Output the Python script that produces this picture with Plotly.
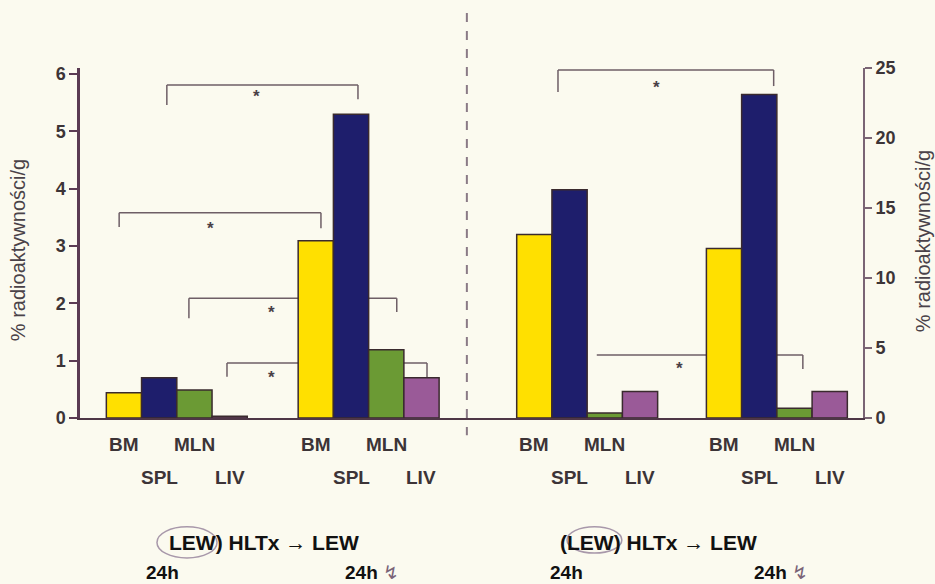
import plotly.graph_objects as go

# ---------------- data ----------------
organs = ["BM", "SPL", "MLN", "LIV"]
left_24h = [0.44, 0.70, 0.49, 0.03]          # left axis (%)
left_24h_irr = [3.09, 5.30, 1.19, 0.70]      # left axis (%)
right_24h = [13.1, 16.3, 0.35, 1.9]          # right axis (%)
right_24h_irr = [12.1, 23.1, 0.70, 1.9]      # right axis (%)
left_ticks = [0, 1, 2, 3, 4, 5, 6]
right_ticks = [0, 5, 10, 15, 20, 25]
axis_title = "% radioaktywności/g"
group_title_left = "LEW) HLTx → LEW"
group_title_right = "(LEW) HLTx → LEW"
time_label = "24h"
irr_symbol = "↯"

# ---------------- layout helpers ----------------
colors = ["#FFE000", "#1E1E6C", "#6B9A34", "#9A5A98"]
group_centers = [2.72, 8.11, 14.25, 19.58]
step = 0.99
offsets = [(i - 1.5) * step for i in range(4)]

def xs(g):
    return [group_centers[g] + o for o in offsets]

fig = go.Figure()
outline = dict(color="#3A2A2E", width=1.5)

fig.add_trace(go.Bar(x=xs(0) + xs(1), y=left_24h + left_24h_irr,
                     marker=dict(color=colors * 2, line=outline),
                     width=step, yaxis="y", showlegend=False, hoverinfo="skip"))
fig.add_trace(go.Bar(x=xs(2) + xs(3), y=right_24h + right_24h_irr,
                     marker=dict(color=colors * 2, line=outline),
                     width=step, yaxis="y2", showlegend=False, hoverinfo="skip"))

# significance brackets: (x0, x1, y, left leg end, right leg end, star x, star y, axis)
brackets = [
    (2.44, 7.81, 5.81, 5.46, 5.56, 4.97, 5.69, "y"),
    (1.10, 6.77, 3.58, 3.33, 3.31, 3.68, 3.40, "y"),
    (3.06, 8.90, 2.09, 1.74, 1.85, 5.39, 1.92, "y"),
    (4.13, 9.75, 0.96, 0.72, 0.70, 5.39, 0.80, "y"),
    (13.43, 19.49, 24.86, 23.29, 23.71, 16.21, 24.0, "y2"),
    (14.52, 20.31, 4.50, None, 3.50, 16.83, 3.86, "y2"),
]
bline = dict(color="#6E5E66", width=1.5)
for x0, x1, yb, yl, yr, sx, sy, ax in brackets:
    fig.add_shape(type="line", x0=x0, x1=x1, y0=yb, y1=yb, xref="x", yref=ax,
                  line=bline, layer="below")
    if yl is not None:
        fig.add_shape(type="line", x0=x0, x1=x0, y0=yb, y1=yl, xref="x", yref=ax,
                      line=bline, layer="below")
    if yr is not None:
        fig.add_shape(type="line", x0=x1, x1=x1, y0=yb, y1=yr, xref="x", yref=ax,
                      line=bline, layer="below")
    fig.add_annotation(x=sx, y=sy, xref="x", yref=ax, text="<b>*</b>", showarrow=False,
                       font=dict(size=17, color="#4A4046", family="Liberation Sans"),
                       xanchor="center", yanchor="middle", yshift=-5)

# dashed separator
fig.add_shape(type="line", x0=10.87, x1=10.87, y0=1.157, y1=-0.049, xref="x", yref="paper",
              line=dict(color="#8A7A86", width=2, dash="dash"))

# organ labels (two staggered rows)
lab_font = dict(size=19, color="#3C3437", family="Liberation Sans")
for g in range(4):
    for i, name in enumerate(organs):
        fig.add_annotation(x=xs(g)[i], y=-0.077 if i % 2 == 0 else -0.169,
                           xref="x", yref="paper", text="<b>%s</b>" % name,
                           showarrow=False, font=lab_font,
                           xanchor="center", yanchor="middle")

# bottom group captions
cap_font = dict(size=21, color="#111111", family="Liberation Sans")
fig.add_annotation(x=0.1117, y=-0.357, xref="paper", yref="paper",
                   text="<b>%s</b>" % group_title_left, showarrow=False,
                   font=cap_font, xanchor="left", yanchor="middle")
fig.add_annotation(x=0.6105, y=-0.357, xref="paper", yref="paper",
                   text="<b>%s</b>" % group_title_right, showarrow=False,
                   font=cap_font, xanchor="left", yanchor="middle")
time_font = dict(size=19, color="#111111", family="Liberation Sans")
for cx, irr in [(0.105, False), (0.373, True), (0.621, False), (0.895, True)]:
    txt = "<b>%s</b>" % time_label
    if irr:
        txt += " <span style='color:#7A6478'>%s</span>" % irr_symbol
    fig.add_annotation(x=cx, y=-0.44, xref="paper", yref="paper", text=txt,
                       showarrow=False, font=time_font,
                       xanchor="center", yanchor="middle")

# ellipses around "LEW"
fig.add_shape(type="circle", x0=0.0983, x1=0.1750, y0=-0.311, y1=-0.400,
              xref="paper", yref="paper", line=dict(color="#A898AA", width=1.5))
fig.add_shape(type="circle", x0=0.622, x1=0.692, y0=-0.311, y1=-0.386,
              xref="paper", yref="paper", line=dict(color="#A898AA", width=1.5))

# axis titles
title_font = dict(size=20, color="#4A4248", family="Liberation Sans")
fig.add_annotation(x=-0.079, y=0.48, xref="paper", yref="paper", text=axis_title,
                   textangle=-90, showarrow=False, font=title_font,
                   xanchor="center", yanchor="middle")
fig.add_annotation(x=1.077, y=0.506, xref="paper", yref="paper", text=axis_title,
                   textangle=-90, showarrow=False, font=title_font,
                   xanchor="center", yanchor="middle")

tick_font = dict(size=18, color="#3C3437", family="Liberation Sans")
fig.update_layout(
    width=935, height=584,
    margin=dict(l=80, r=72, t=68, b=166),
    paper_bgcolor="#FBFAEF", plot_bgcolor="#FBFAEF",
    barmode="overlay",
    xaxis=dict(range=[0, 22], showgrid=False, zeroline=False, showticklabels=False,
               ticks="", showline=True, linecolor="#4E3646", linewidth=2),
    yaxis=dict(range=[0, 6.105], tickvals=left_ticks,
               ticktext=["<b>%d</b>" % v for v in left_ticks],
               ticks="outside", ticklen=8, tickwidth=2, tickcolor="#5A3A52",
               showline=True, linecolor="#5A3A52", linewidth=2.5,
               showgrid=False, zeroline=False, tickfont=tick_font),
    yaxis2=dict(range=[0, 25], tickvals=right_ticks,
                ticktext=["<b>%d</b>" % v for v in right_ticks],
                overlaying="y", side="right",
                ticks="outside", ticklen=7, tickwidth=1.5, tickcolor="#7A6474",
                showline=True, linecolor="#7A6474", linewidth=1.8,
                showgrid=False, zeroline=False, tickfont=tick_font),
)

fig.write_html("out.html")
